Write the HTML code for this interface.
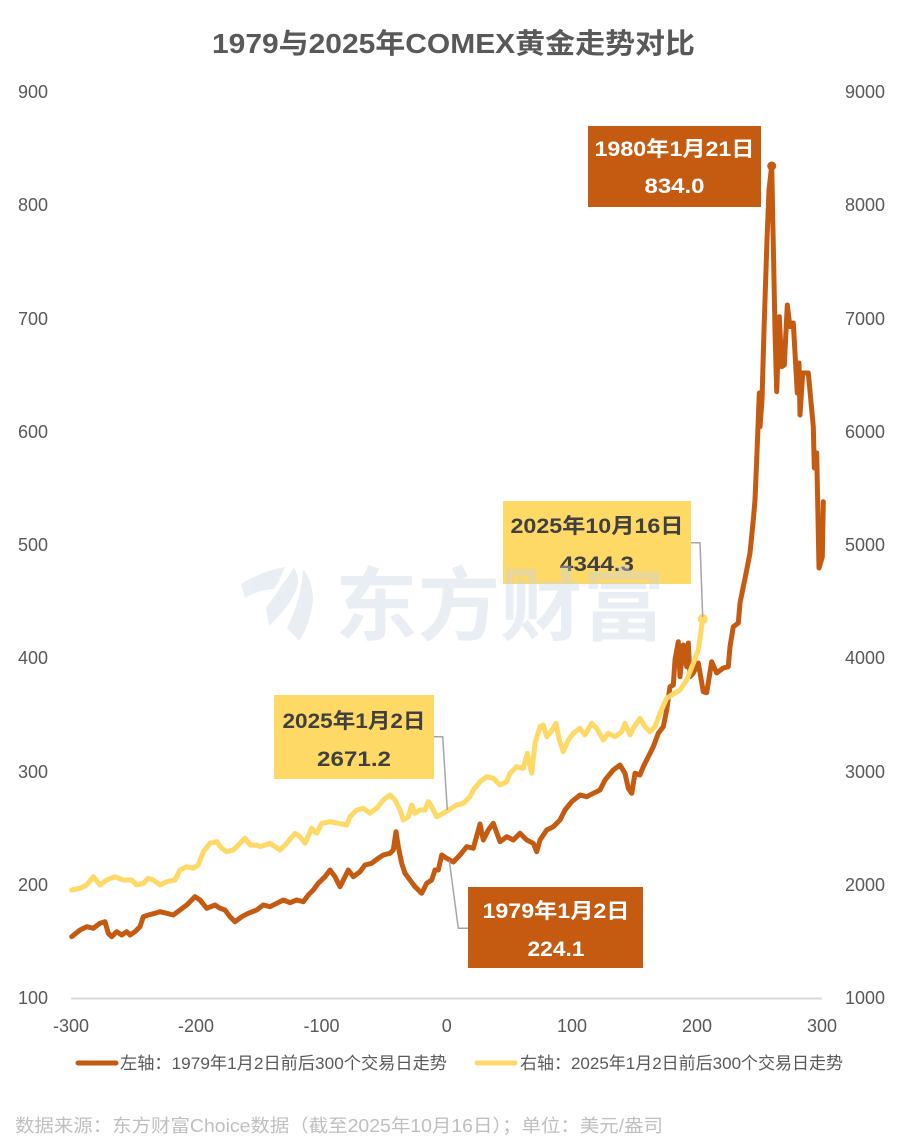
<!DOCTYPE html>
<html>
<head>
<meta charset="utf-8">
<style>
html,body{margin:0;padding:0;background:#fff;}
svg{display:block;}
text{font-family:"Liberation Sans","Noto Sans CJK SC",sans-serif;}
</style>
</head>
<body>
<svg width="906" height="1140" viewBox="0 0 906 1140" xmlns="http://www.w3.org/2000/svg">
<rect width="906" height="1140" fill="#fff"/>

<!-- Title -->
<text x="453.5" y="53" text-anchor="middle" font-size="28" font-weight="bold" fill="#595959" textLength="483" lengthAdjust="spacingAndGlyphs">1979与2025年COMEX黄金走势对比</text>

<!-- Left axis labels -->
<g font-size="18" fill="#595959" text-anchor="end">
<text x="48" y="98">900</text>
<text x="48" y="211">800</text>
<text x="48" y="325">700</text>
<text x="48" y="438">600</text>
<text x="48" y="551">500</text>
<text x="48" y="664">400</text>
<text x="48" y="778">300</text>
<text x="48" y="891">200</text>
<text x="48" y="1004">100</text>
</g>
<!-- Right axis labels -->
<g font-size="18" fill="#595959" text-anchor="start">
<text x="845" y="98">9000</text>
<text x="845" y="211">8000</text>
<text x="845" y="325">7000</text>
<text x="845" y="438">6000</text>
<text x="845" y="551">5000</text>
<text x="845" y="664">4000</text>
<text x="845" y="778">3000</text>
<text x="845" y="891">2000</text>
<text x="845" y="1004">1000</text>
</g>
<!-- Bottom axis labels -->
<g font-size="18" fill="#595959" text-anchor="middle">
<text x="71" y="1032">-300</text>
<text x="196" y="1032">-200</text>
<text x="321.5" y="1032">-100</text>
<text x="446.7" y="1032">0</text>
<text x="572" y="1032">100</text>
<text x="697" y="1032">200</text>
<text x="822" y="1032">300</text>
</g>

<!-- baseline axis -->
<line x1="71" y1="998.5" x2="822" y2="998.5" stroke="#D9D9D9" stroke-width="2"/>

<!-- Orange series (1979) -->
<polyline fill="none" stroke="#C55A11" stroke-width="5" stroke-linejoin="round" stroke-linecap="round" points="
71.7,936.7 80,930 86.7,926.7 93.3,928.3 100,923.3 105,921.7 108.3,933.3 111.7,936.7 116.7,931.7 121.7,935 126.7,931.7 130,935 135,931.7 140,926.7 143.3,916.7 148.3,915 155,913.3 160,911.7 166.7,913.3 173.3,915 180,910 186.7,905 195,896.7 200,900 206.7,908.3 215,905 220,908.3 225,910 230,916.7 235,921.7 241.7,916.7 248.3,913.3 256.7,910 263.3,905 270,906.7 276.7,903.3 283.3,900 290,902.7 296.7,900 303.3,901.7 308.3,895 313.3,890 318.3,883.3 325,876.7 330,870 335,876.7 340,886.7 345,876.7 348.3,870 353.3,876.7 360,871.7 365,865 371.7,863.3 378.3,858.3 383.3,855 390,853.3 393.3,850 396,831.7 398.3,846.7 401.7,863.3 405,873.3 410,880 415,886.7 421.7,893.3 426.7,883.3 431.7,880 435,870 438.3,870 441.7,855 446.7,858.3 453.3,862 460,855 466.7,846.7 473.3,848.3 480,824 483.3,840 488.3,830 493.3,823.3 500,841.7 506.7,836.7 513.3,840 520,833.3 526.7,840 533.3,843.3 536.7,851.7 540,840 546.7,830 553.3,826.7 560,820 565,810 571.7,801.7 580,795 586.7,796.7 593.3,793.3 600,790 605,780 613.3,770 620,765 625,773.3 628.3,788.3 631.7,793.3 635,773.3 640,775 643.3,766.7 648.3,756.7 653.3,746.7 658.3,733.3 663.3,726.7 666.7,710 670,686.7 673.3,685 675,660 678.3,641.7 680,676.7 683.3,645 686.7,666.7 688.3,643 690,676.7 693.3,673 698.3,663 703.3,691.7 706.7,692.7 711.7,661.7 716.7,673 723.3,668 728.3,666.7 730,646.7 733.3,626.7 738.3,623 740,603 743.3,586.7 746.7,570 750,553 753.3,520 755,500 756.7,460 759.3,393 760,426.7 762,400 764,330 767,240 769,190 771.7,165.7 773,230 775,330 776.7,391.7 779.3,316.7 781.7,366.7 784.3,365 787.3,305 790,326.7 793.3,323 797.3,393 799,363 800,415 802.7,373 808.3,373 813.3,426.7 814.3,468 816.7,453 819,568 822.3,557 823.3,501.7"/>
<circle cx="771.7" cy="166" r="4.5" fill="#C55A11"/>

<!-- Yellow series (2025) -->
<polyline fill="none" stroke="#FFD966" stroke-width="5" stroke-linejoin="round" stroke-linecap="round" points="
71.7,890 80,888.3 86.7,885 93.3,876.7 100,885 106.7,880 115,876.7 123.3,880 131.7,880 136.7,885 143.3,883.3 148.3,878.3 153.3,880 160,885 166.7,881.7 175,880 180,870 186.7,866.7 193.3,868.3 198.3,865 203.3,851.7 210,843.3 216.7,841.7 221.7,848.3 226.7,851.7 233.3,850 240,843.3 245,838.3 250,845 256.7,845 260,846.7 270,843.3 280,850 286.7,843.3 295,833.3 300,836.7 305,843.3 311.7,828.3 316.7,833.3 321.7,823.3 330,821.7 338.3,823.3 346.7,825 350,816.7 356.7,810 363.3,808.3 370,813.3 376.7,808.3 383.3,800 390,795 395,800 400,810 403.3,820 408.3,816.7 411.7,805 415,813.3 420,810 425,810 428.3,801.7 431.7,806.7 436.7,816.7 443.3,813.3 447,811 456.7,805 463.3,803.3 470,796.7 473.3,790 480,781.7 486.7,776.7 493.3,778.3 500,785 506.7,781.7 510,773.3 516.7,766.7 523.3,768.3 527.3,753.3 531.7,773.3 535,743.3 540,726.7 543.3,725 546.7,736.7 551,731.7 556,723.3 559.3,740 563.3,751.7 568.3,740 573.3,733.3 580,728.3 585,735 591.7,723.3 596.7,728.3 603.3,740 608.3,733.3 615,736.7 621.7,731.7 625,723.3 630,735 633.3,728.3 640,718.3 645,726.7 650,731.7 655,726.7 660,713.3 666.7,698.3 671.7,695 680,690 686.7,680 693.3,663.3 698.3,650 702.7,619"/>
<circle cx="702.7" cy="619" r="5" fill="#FFD966"/>

<!-- Connector lines -->
<g fill="none" stroke="#A6A6A6" stroke-width="1.5">
<polyline points="691,542.7 700,542.7 702.7,617"/>
<polyline points="434,736.7 442.7,736.7 447.3,810"/>
<polyline points="449.3,860.7 458.3,928.3 468.3,928.3"/>
</g>

<!-- Annotation boxes -->
<rect x="588" y="126" width="173" height="81" fill="#C55A11"/>
<text x="674.5" y="156" text-anchor="middle" font-size="21" font-weight="bold" fill="#fff" textLength="160" lengthAdjust="spacingAndGlyphs">1980年1月21日</text>
<text x="674.5" y="193" text-anchor="middle" font-size="21" font-weight="bold" fill="#fff" textLength="60" lengthAdjust="spacingAndGlyphs">834.0</text>

<rect x="503" y="501" width="188" height="83" fill="#FFD966"/>
<text x="597" y="533" text-anchor="middle" font-size="21" font-weight="bold" fill="#404040" textLength="173" lengthAdjust="spacingAndGlyphs">2025年10月16日</text>
<text x="597" y="571" text-anchor="middle" font-size="21" font-weight="bold" fill="#404040" textLength="74" lengthAdjust="spacingAndGlyphs">4344.3</text>

<rect x="274" y="695" width="160" height="84" fill="#FFD966"/>
<text x="354" y="728" text-anchor="middle" font-size="21" font-weight="bold" fill="#404040" textLength="143" lengthAdjust="spacingAndGlyphs">2025年1月2日</text>
<text x="354" y="766" text-anchor="middle" font-size="21" font-weight="bold" fill="#404040" textLength="74" lengthAdjust="spacingAndGlyphs">2671.2</text>

<rect x="468" y="887" width="175" height="81" fill="#C55A11"/>
<text x="556" y="918" text-anchor="middle" font-size="21" font-weight="bold" fill="#fff" textLength="147" lengthAdjust="spacingAndGlyphs">1979年1月2日</text>
<text x="556" y="956" text-anchor="middle" font-size="21" font-weight="bold" fill="#fff" textLength="57" lengthAdjust="spacingAndGlyphs">224.1</text>

<!-- Watermark -->
<g opacity="0.4" fill="#C8D6E3">
<path d="M241,584 Q262,571 285,567 Q280,580 274,589 Q258,590 245,598 Z"/>
<path d="M266,608 Q280,588 294,568 Q299,575 298,584 Q294,602 269,626 Z"/>
<path d="M287,628 Q302,598 303,569 Q313,582 313,600 Q311,622 299,641 Z"/>
<text x="500" y="634" text-anchor="middle" font-size="80" font-weight="bold" textLength="330" lengthAdjust="spacingAndGlyphs">东方财富</text>
</g>

<!-- Legend -->
<line x1="78" y1="1063" x2="116" y2="1063" stroke="#C55A11" stroke-width="5" stroke-linecap="round"/>
<text x="120" y="1069" font-size="17" fill="#595959" textLength="327" lengthAdjust="spacingAndGlyphs">左轴：1979年1月2日前后300个交易日走势</text>
<line x1="477" y1="1063" x2="515" y2="1063" stroke="#FFD966" stroke-width="5" stroke-linecap="round"/>
<text x="520" y="1069" font-size="17" fill="#595959" textLength="323" lengthAdjust="spacingAndGlyphs">右轴：2025年1月2日前后300个交易日走势</text>

<!-- Footer -->
<text x="15" y="1132" font-size="18" fill="#BFBFBF" textLength="648" lengthAdjust="spacingAndGlyphs">数据来源：东方财富Choice数据（截至2025年10月16日）；单位：美元/盎司</text>
</svg>
</body>
</html>
